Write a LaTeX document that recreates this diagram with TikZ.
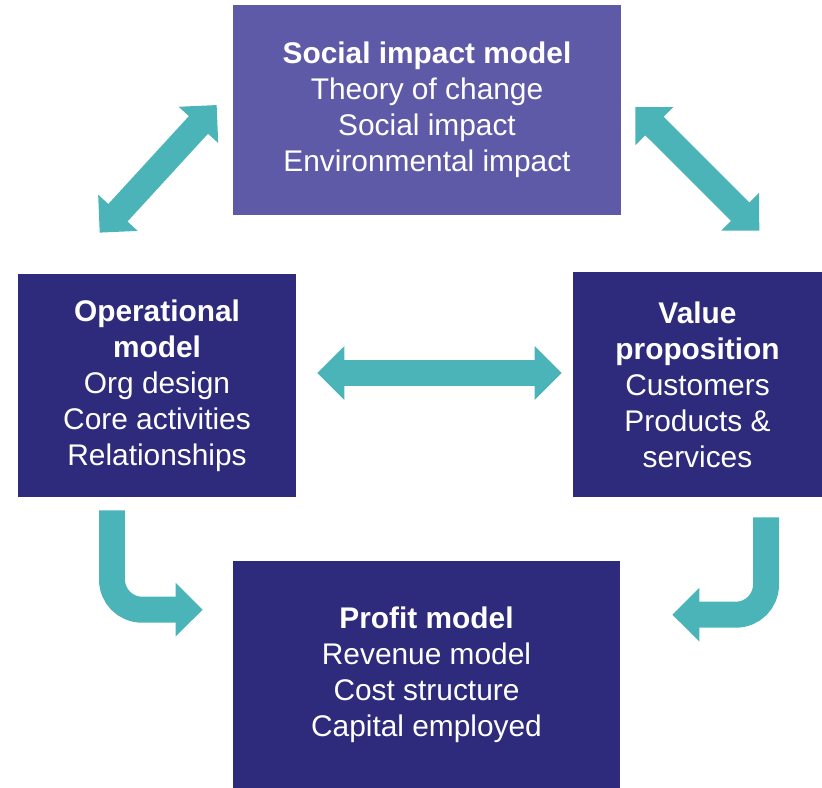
\documentclass[tikz,border=0pt]{standalone}
\usepackage{fontspec}
\setmainfont{Liberation Sans}
\usetikzlibrary{arrows.meta,calc}
\definecolor{impact}{HTML}{5F5AA8}
\definecolor{navy}{HTML}{2E2A7C}
\definecolor{arrowteal}{HTML}{4BB4B8}

\begin{document}
\begin{tikzpicture}[x=0.02cm, y=-0.02cm,
    box/.style={fill=navy, text=white, align=center, inner sep=0pt,
      font=\fontsize{17}{20.5}\selectfont},
    link/.style={arrowteal, line width=0.52cm,
      {Triangle[width=1.04cm,length=0.54cm]}-{Triangle[width=1.04cm,length=0.54cm]}},
    turn/.style={arrowteal, line width=0.52cm, rounded corners=0.6cm,
      -{Triangle[width=1.04cm,length=0.54cm]}}]
  \useasboundingbox (0,0) rectangle (822,788);
  % the four models
  \node[box, fill=impact, minimum width=7.76cm, minimum height=4.2cm] (soc) at (427,110)
    {\textbf{Social impact model}\\Theory of change\\Social impact\\Environmental impact};
  \node[box, minimum width=5.56cm, minimum height=4.46cm] (op) at (157,385.5)
    {\textbf{Operational}\\\textbf{model}\\Org design\\Core activities\\Relationships};
  \node[box, minimum width=4.98cm, minimum height=4.5cm] (vp) at (697.5,384.5)
    {\textbf{Value}\\\textbf{proposition}\\Customers\\Products \&\\services};
  \node[box, minimum width=7.74cm, minimum height=4.54cm] (prof) at (426.5,674.5)
    {\textbf{Profit model}\\Revenue model\\Cost structure\\Capital employed};
  % arrows between them
  \draw[link] ($(op.north west)+(82,-41)$) -- ($(soc.west)+(-16,-5)$);
  \draw[link] ($(soc.east)+(14,-3)$) -- ($(vp.north east)+(-63,-41)$);
  \draw[link] ($(op.east)+(21,-12.5)$) -- ($(vp.west)+(-11,-11.5)$);
  \draw[turn] ($(op.south)+(-45,13)$) |- ($(prof.north west)+(-30,49)$);
  \draw[turn] ($(vp.south)+(68.5,20)$) |- ($(prof.north east)+(52,54)$);
\end{tikzpicture}
\end{document}
